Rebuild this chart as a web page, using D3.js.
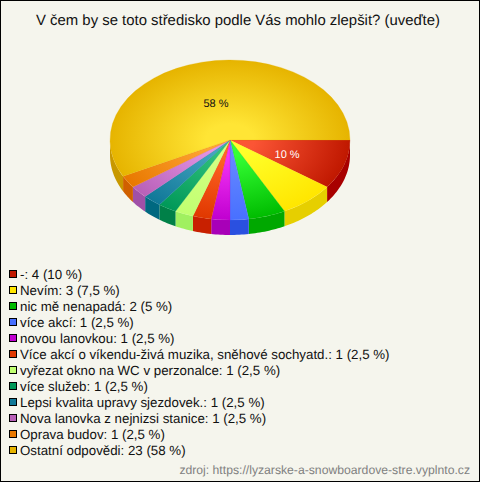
<!DOCTYPE html>
<html>
<head>
<meta charset="utf-8">
<script src="https://cdnjs.cloudflare.com/ajax/libs/d3/7.8.5/d3.min.js"></script>
<style>
html, body { margin: 0; padding: 0; background: #f5f5ed; }
svg { display: block; font-family: "Liberation Sans", Arial, sans-serif; text-rendering: geometricPrecision; }
</style>
</head>
<body>
<div id="chart"></div>
<script>
////
// DATA
////
const title = "V čem by se toto středisko podle Vás mohlo zlepšit? (uveďte)";
const source = "zdroj: https://lyzarske-a-snowboardove-stre.vyplnto.cz";

const categories = ["-", "Nevím", "nic mě nenapadá", "více akcí", "novou lanovkou",
    "Více akcí o víkendu-živá muzika, sněhové sochyatd.", "vyřezat okno na WC v perzonalce",
    "více služeb", "Lepsi kvalita upravy sjezdovek.", "Nova lanovka z nejnizsi stanice",
    "Oprava budov", "Ostatní odpovědi"];
const counts = [4, 3, 2, 1, 1, 1, 1, 1, 1, 1, 1, 23];
const percents = ["10", "7,5", "5", "2,5", "2,5", "2,5", "2,5", "2,5", "2,5", "2,5", "2,5", "58"];

const centerColors = ["#fb5535", "#ffff2a", "#35ff35", "#6688ff", "#f535f5", "#ff6425",
    "#d5ff85", "#30c07c", "#45a5c0", "#e595e5", "#ffa535", "#ffe535"];
const edgeColors = ["#c01800", "#ffe600", "#00bc00", "#4870ff", "#c000d0", "#e03800",
    "#c0ff70", "#009858", "#107898", "#b860b8", "#e87800", "#e6b400"];
const sideColors = ["#a80000", "#e6cf00", "#00a800", "#2a50e0", "#a800b8", "#c82000",
    "#a0f060", "#008048", "#006880", "#a050a8", "#d06000", "#c89800"];
const legendColors = ["#c01800", "#ffe600", "#00bc00", "#4870ff", "#c000d0", "#e03800",
    "#c0ff70", "#009858", "#107898", "#b860b8", "#e87800", "#e6b400"];

////
// CONTAINER
////
const width = 480, height = 482;
const pie_cx = 230, pie_cy = 140, pie_r = 120, pie_squash = 2 / 3, pie_depth = 15;

const svg = d3.select("#chart")
    .append("svg")
    .attr("width", width)
    .attr("height", height);

svg.append("rect")
    .attr("x", 0.5).attr("y", 0.5)
    .attr("width", width - 1).attr("height", height - 1)
    .attr("fill", "#f5f5ed")
    .attr("stroke", "#000");

svg.append("text")
    .attr("x", 238).attr("y", 25)
    .attr("text-anchor", "middle")
    .style("font-size", "14.9px")
    .attr("fill", "#111")
    .text(title);

////
// PIE
////
// starts at 3 o'clock, runs clockwise, keeps the order of the data
const pie = d3.pie().sort(null).startAngle(Math.PI / 2).endAngle(Math.PI * 2.5);
const slices = pie(counts);

const defs = svg.append("defs");
defs.selectAll("radialGradient")
    .data(slices)
    .enter()
    .append("radialGradient")
    .attr("id", (d, i) => "slice_" + i)
    .attr("gradientUnits", "userSpaceOnUse")
    .attr("cx", 0).attr("cy", 0).attr("r", pie_r)
    .each(function (d, i) {
        const grad = d3.select(this);
        grad.append("stop").attr("offset", "0.2").attr("stop-color", centerColors[i]);
        grad.append("stop").attr("offset", "1").attr("stop-color", edgeColors[i]);
    });

// side wall, only the part of each slice that faces us
const wall = d3.area()
    .x(a => pie_cx + pie_r * Math.sin(a))
    .y0(a => pie_cy - pie_r * pie_squash * Math.cos(a))
    .y1(a => pie_cy - pie_r * pie_squash * Math.cos(a) + pie_depth);

svg.append("g").selectAll("path")
    .data(slices.filter(d => d.startAngle < Math.PI * 1.5))
    .enter()
    .append("path")
    .attr("fill", d => sideColors[d.index])
    .attr("d", d => {
        const end = Math.min(d.endAngle, Math.PI * 1.5);
        const steps = d3.range(d.startAngle, end, 0.02).concat([end]);
        return wall(steps);
    });

const arc = d3.arc().innerRadius(0).outerRadius(pie_r);

svg.append("g")
    .attr("transform", `translate(${pie_cx},${pie_cy}) scale(1,${pie_squash})`)
    .selectAll("path")
    .data(slices)
    .enter()
    .append("path")
    .attr("d", arc)
    .attr("fill", d => `url(#slice_${d.index})`)
    .attr("stroke", d => edgeColors[d.index])
    .attr("stroke-width", 0.3);

// only the big slices get a label
const labelArc = d3.arc().innerRadius(pie_r / 2).outerRadius(pie_r / 2);
svg.append("g").selectAll("text")
    .data(slices.filter(d => d.value >= 4))
    .enter()
    .append("text")
    .attr("x", d => pie_cx + labelArc.centroid(d)[0])
    .attr("y", d => pie_cy + labelArc.centroid(d)[1] * pie_squash + 6)
    .attr("text-anchor", "middle")
    .style("font-size", "11px")
    .attr("fill", d => d.index == 0 ? "#fff" : "#111")
    .text(d => percents[d.index] + " %");

////
// LEGEND
////
const legend_y = d3.scaleBand()
    .domain(d3.range(categories.length))
    .range([266, 458]);

const legend = svg.append("g").selectAll("g")
    .data(categories)
    .enter()
    .append("g")
    .attr("transform", (d, i) => `translate(0,${legend_y(i)})`);

legend.append("rect")
    .attr("x", 9.5).attr("y", 4.5)
    .attr("width", 7).attr("height", 7)
    .attr("fill", (d, i) => legendColors[i])
    .attr("stroke", "#000");

legend.append("text")
    .attr("x", 20).attr("y", 13)
    .style("font-size", "13.3px")
    .attr("fill", "#111")
    .text((d, i) => `${d}: ${counts[i]} (${percents[i]} %)`);

svg.append("text")
    .attr("x", 470).attr("y", 474)
    .attr("text-anchor", "end")
    .style("font-size", "12.2px")
    .attr("fill", "#808080")
    .text(source);
</script>
</body>
</html>
